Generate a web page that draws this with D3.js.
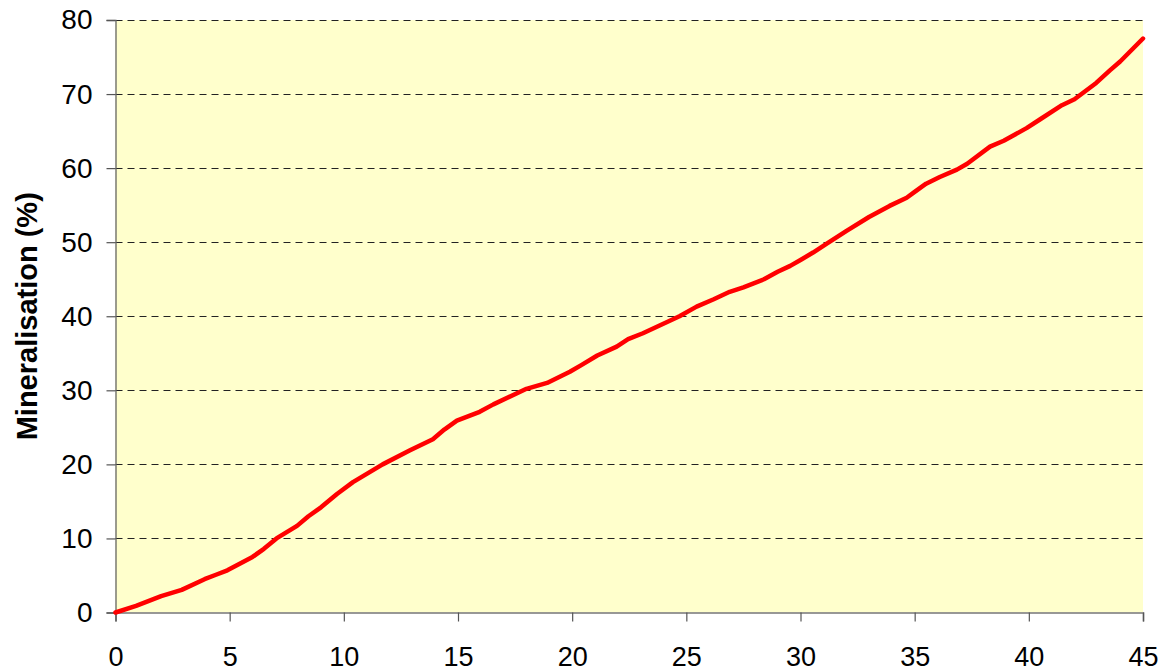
<!DOCTYPE html>
<html>
<head>
<meta charset="utf-8">
<script src="https://cdn.jsdelivr.net/npm/d3@7"></script>
<style>
html,body{margin:0;padding:0;background:#fff;}
svg{display:block;}
text{font-family:Arial,"Liberation Sans",sans-serif;}
</style>
</head>
<body>
<svg id="chart" width="1162" height="672"></svg>
<script>
const days = [0,0.9,2,2.9,3.9,4.4,4.9,6,6.5,7.05,7.95,8.45,9,9.7,10.4,11.7,12.9,13.9,14.4,14.95,15.95,16.55,18,18.9,19.9,20.4,21.1,21.95,22.45,23.1,24.7,25.45,26.2,26.9,27.5,28.4,29,29.55,30,30.55,31.15,32,33,33.9,34.65,35,35.5,36.1,36.85,37.3,38.3,38.9,39.9,40.5,41.45,42,42.95,43.55,44,45];
const mineralisation = [0,0.9,2.2,3.05,4.5,5.1,5.7,7.5,8.6,10,11.7,13,14.2,16,17.6,20,21.9,23.4,24.7,25.9,27.1,28.1,30.2,31,32.5,33.4,34.7,35.9,36.9,37.7,40,41.3,42.3,43.3,43.9,45,46,46.8,47.6,48.6,49.8,51.5,53.4,54.9,56,56.8,57.9,58.8,59.8,60.6,62.9,63.7,65.4,66.6,68.5,69.3,71.5,73.2,74.4,77.5];
const xTicks = [0,5,10,15,20,25,30,35,40,45];
const yTicks = [0,10,20,30,40,50,60,70,80];
const yTitle = "Mineralisation (%)";

(function(){
const svg = d3.select("#chart");
const mLeft = 115.5, mRight = 1143, mTop = 20, mBottom = 612.5;
const x = d3.scaleLinear().domain([0,45]).range([mLeft,mRight]);
const y = d3.scaleLinear().domain([0,80]).range([mBottom,mTop]);

svg.append("rect").attr("x",mLeft).attr("y",mTop)
  .attr("width",mRight-mLeft).attr("height",mBottom-mTop)
  .attr("fill","#FFFFCC");

svg.append("g").selectAll("line").data(yTicks.filter(d=>d>0)).join("line")
  .attr("x1",mLeft).attr("x2",mRight)
  .attr("y1",d=>Math.round(y(d))+0.5).attr("y2",d=>Math.round(y(d))+0.5)
  .attr("stroke","#222").attr("stroke-width",1.1)
  .attr("stroke-dasharray","7,5");

const yAxis = svg.append("g").attr("transform",`translate(${mLeft},0)`)
  .call(d3.axisLeft(y).tickValues(yTicks).tickSize(9).tickPadding(14).tickFormat(d3.format("d")));
yAxis.select(".domain").attr("stroke","#666").attr("stroke-width",1.3);
yAxis.selectAll(".tick line").attr("stroke","#555").attr("stroke-width",1.2);
yAxis.selectAll("text").attr("font-size",28).attr("fill","#000")
  .attr("font-family","Arial, 'Liberation Sans', sans-serif");

const xAxis = svg.append("g").attr("transform",`translate(0,${mBottom})`)
  .call(d3.axisBottom(x).tickValues(xTicks).tickSize(9).tickPadding(25).tickFormat(d3.format("d")));
xAxis.select(".domain").attr("stroke","#777").attr("stroke-width",1.6);
xAxis.selectAll(".tick line").attr("stroke","#555").attr("stroke-width",1.2);
xAxis.selectAll("text").attr("font-size",27).attr("fill","#000")
  .attr("font-family","Arial, 'Liberation Sans', sans-serif");

const pts = days.map((d,i)=>[d,mineralisation[i]]);
svg.append("path").datum(pts)
  .attr("fill","none").attr("stroke","#FF0000").attr("stroke-width",4.5)
  .attr("stroke-linejoin","round").attr("stroke-linecap","round")
  .attr("d",d3.line().x(d=>x(d[0])).y(d=>y(d[1])));

svg.append("text")
  .attr("transform",`translate(37,${(mTop+mBottom)/2}) rotate(-90)`)
  .attr("text-anchor","middle")
  .attr("font-size",29).attr("font-weight","bold").attr("fill","#000")
  .text(yTitle);
})();
</script>
</body>
</html>
